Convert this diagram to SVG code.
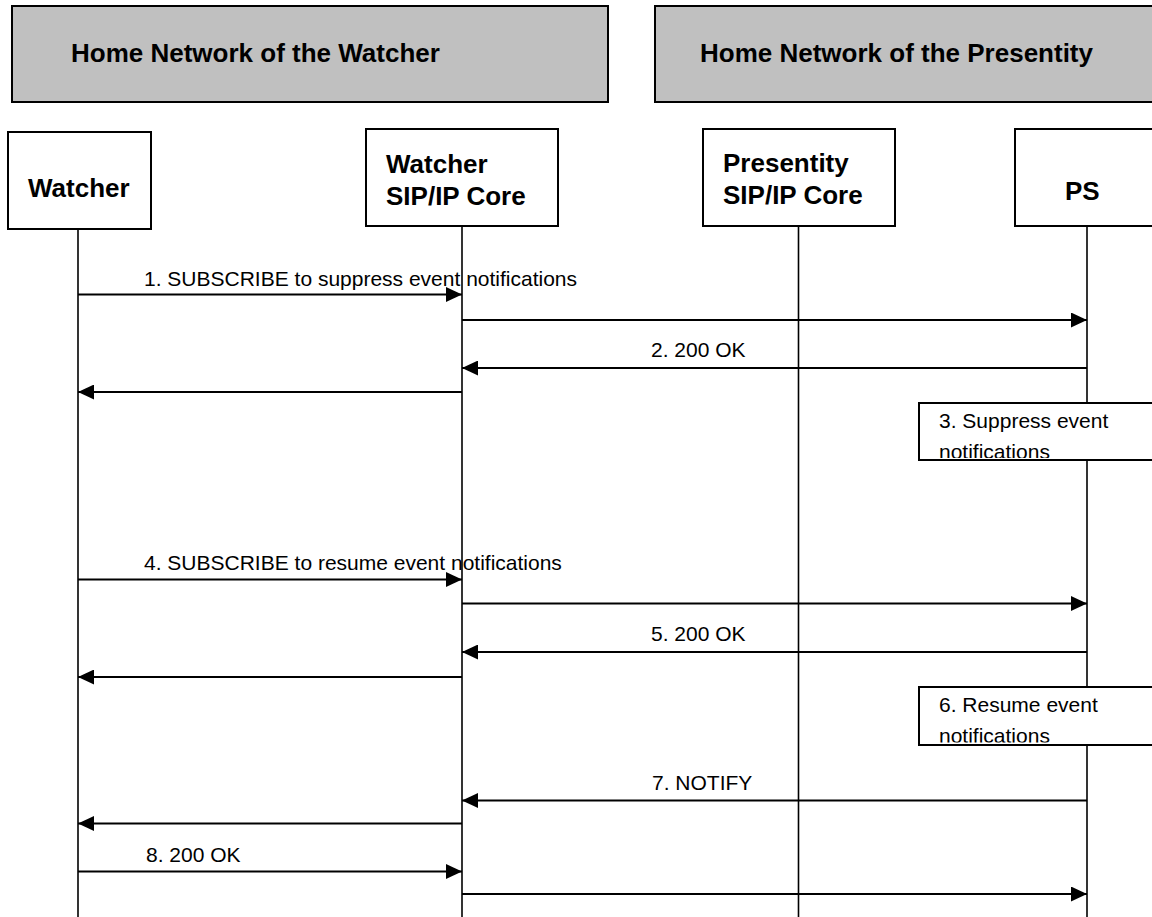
<svg xmlns="http://www.w3.org/2000/svg" width="1152" height="917" viewBox="0 0 1152 917">
<style>
.zone{fill:#c0c0c0;stroke:#000;stroke-width:2}
.box{fill:#fff;stroke:#000;stroke-width:2}
.life{stroke:#000;stroke-width:1.6;fill:none}
.msg{stroke:#000;stroke-width:2.2;fill:none}
.hdr{font-family:"Liberation Sans",Arial,sans-serif;font-weight:bold;font-size:26px;fill:#000}
.nl{font-family:"Liberation Sans",Arial,sans-serif;font-weight:bold;font-size:26px;fill:#000}
.lbl{font-family:"Liberation Sans",Arial,sans-serif;font-size:21px;fill:#000}
</style>
<defs>
<marker id="ah" markerUnits="userSpaceOnUse" markerWidth="16" markerHeight="15" refX="16" refY="7.5" orient="auto">
<path d="M0,0 L16,7.5 L0,15 Z" fill="#000"/>
</marker>
<clipPath id="c3"><rect x="919" y="403" width="240" height="55"/></clipPath>
<clipPath id="c6"><rect x="919" y="687" width="240" height="55.5"/></clipPath>
</defs>

<g id="zone-watcher">
<rect class="zone" x="12" y="6" width="596" height="96"/>
<text class="hdr" x="71" y="62">Home Network of the Watcher</text>
</g>
<g id="zone-presentity">
<rect class="zone" x="655" y="6" width="510" height="96"/>
<text class="hdr" x="700" y="62">Home Network of the Presentity</text>
</g>

<g id="node-watcher">
<rect class="box" x="8" y="132" width="143" height="97"/>
<text class="nl" x="28" y="197">Watcher</text>
<line class="life" x1="78" y1="229" x2="78" y2="917"/>
</g>
<g id="node-watcher-core">
<rect class="box" x="366" y="129" width="192" height="97"/>
<text class="nl" x="386" y="173">Watcher</text>
<text class="nl" x="386" y="205">SIP/IP Core</text>
<line class="life" x1="462" y1="226" x2="462" y2="917"/>
</g>
<g id="node-presentity-core">
<rect class="box" x="703" y="129" width="192" height="97"/>
<text class="nl" x="723" y="172">Presentity</text>
<text class="nl" x="723" y="204">SIP/IP Core</text>
<line class="life" x1="798.5" y1="226" x2="798.5" y2="917"/>
</g>
<g id="node-ps">
<rect class="box" x="1015" y="129" width="150" height="97"/>
<text class="nl" x="1065" y="200">PS</text>
<line class="life" x1="1087" y1="226" x2="1087" y2="917"/>
</g>

<g id="connectors">
<text class="lbl" x="144" y="286">1. SUBSCRIBE to suppress event notifications</text>
<line class="msg" x1="78" y1="294.5" x2="462" y2="294.5" marker-end="url(#ah)"/>
<line class="msg" x1="462" y1="320" x2="1087" y2="320" marker-end="url(#ah)"/>
<text class="lbl" x="651" y="357">2. 200 OK</text>
<line class="msg" x1="1087" y1="368" x2="462" y2="368" marker-end="url(#ah)"/>
<line class="msg" x1="462" y1="392" x2="78" y2="392" marker-end="url(#ah)"/>

<text class="lbl" x="144" y="570">4. SUBSCRIBE to resume event notifications</text>
<line class="msg" x1="78" y1="579.5" x2="462" y2="579.5" marker-end="url(#ah)"/>
<line class="msg" x1="462" y1="603.5" x2="1087" y2="603.5" marker-end="url(#ah)"/>
<text class="lbl" x="651" y="641">5. 200 OK</text>
<line class="msg" x1="1087" y1="652" x2="462" y2="652" marker-end="url(#ah)"/>
<line class="msg" x1="462" y1="677" x2="78" y2="677" marker-end="url(#ah)"/>

<text class="lbl" x="652" y="790">7. NOTIFY</text>
<line class="msg" x1="1087" y1="800.5" x2="462" y2="800.5" marker-end="url(#ah)"/>
<line class="msg" x1="462" y1="823.5" x2="78" y2="823.5" marker-end="url(#ah)"/>
<text class="lbl" x="146" y="862">8. 200 OK</text>
<line class="msg" x1="78" y1="871.5" x2="462" y2="871.5" marker-end="url(#ah)"/>
<line class="msg" x1="462" y1="894" x2="1087" y2="894" marker-end="url(#ah)"/>
</g>

<g id="note-3">
<rect class="box" x="919" y="403" width="240" height="57"/>
<g clip-path="url(#c3)">
<text class="lbl" x="939" y="428">3. Suppress event</text>
<text class="lbl" x="939" y="459">notifications</text>
</g>
</g>
<g id="note-6">
<rect class="box" x="919" y="687" width="240" height="58"/>
<g clip-path="url(#c6)">
<text class="lbl" x="939" y="712">6. Resume event</text>
<text class="lbl" x="939" y="742.5">notifications</text>
</g>
</g>
</svg>
